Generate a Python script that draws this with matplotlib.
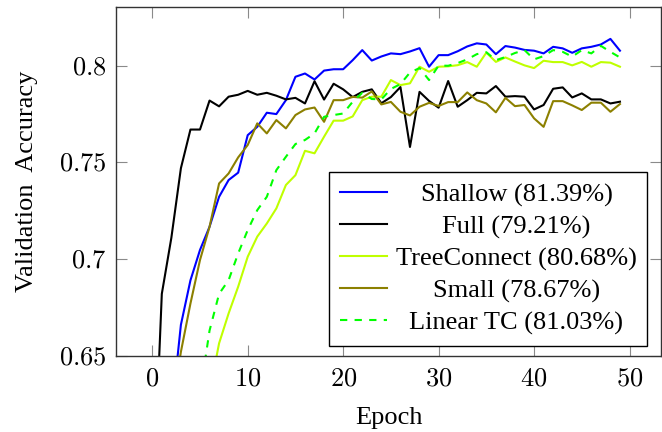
import numpy as np
import matplotlib
matplotlib.use('Agg')
import matplotlib.pyplot as plt
from matplotlib.ticker import FuncFormatter

plt.rcParams['font.family'] = ['Liberation Serif', 'DejaVu Serif']
plt.rcParams['mathtext.fontset'] = 'cm'

epochs = np.arange(50)

shallow = [0.55, 0.59, 0.619, 0.666, 0.689, 0.7047, 0.7167, 0.7322, 0.7409, 0.7447,
           0.7641, 0.7684, 0.7757, 0.775, 0.7822, 0.7943, 0.796, 0.7929, 0.7975, 0.7982,
           0.7982, 0.8029, 0.8081, 0.8027, 0.8048, 0.8064, 0.806, 0.8074, 0.8091, 0.7995,
           0.8055, 0.8055, 0.8075, 0.81, 0.8116, 0.811, 0.806, 0.8102, 0.8094, 0.8082,
           0.8078, 0.8064, 0.8098, 0.809, 0.8067, 0.809, 0.8098, 0.811, 0.8139, 0.8078]
full = [0.563, 0.682, 0.711, 0.747, 0.767, 0.767, 0.782, 0.779, 0.784, 0.785,
        0.787, 0.785, 0.786, 0.7845, 0.7826, 0.7834, 0.7805, 0.7920, 0.7825, 0.7907,
        0.7878, 0.7838, 0.7865, 0.7878, 0.7806, 0.7838, 0.789, 0.758, 0.7865, 0.7818,
        0.7783, 0.7921, 0.7788, 0.7822, 0.786, 0.7857, 0.7895, 0.784, 0.7843, 0.784,
        0.7774, 0.7797, 0.7881, 0.7888, 0.7836, 0.7857, 0.7826, 0.7826, 0.7805, 0.7814]
treeconnect = [0.45, 0.5, 0.54, 0.57, 0.595, 0.615, 0.631, 0.6564, 0.6719, 0.6857,
               0.7012, 0.7116, 0.7184, 0.7262, 0.7383, 0.7434, 0.756, 0.7547, 0.7633, 0.7716,
               0.7716, 0.7738, 0.7822, 0.784, 0.784, 0.7926, 0.79, 0.7909, 0.7995, 0.7969,
               0.7995, 0.7997, 0.8003, 0.8019, 0.7995, 0.8068, 0.802, 0.8043, 0.8022, 0.8002,
               0.7988, 0.8026, 0.8019, 0.8019, 0.8002, 0.802, 0.7995, 0.8019, 0.8016, 0.7995]
small = [0.53, 0.58, 0.62, 0.652, 0.677, 0.6995, 0.7167, 0.7391, 0.7443, 0.7526,
         0.759, 0.7702, 0.765, 0.7719, 0.7676, 0.7745, 0.7774, 0.7784, 0.771, 0.7822,
         0.7822, 0.7839, 0.7835, 0.7867, 0.7800, 0.7813, 0.7762, 0.7743, 0.7788, 0.7808,
         0.7792, 0.7812, 0.7812, 0.7862, 0.7822, 0.7805, 0.7759, 0.7834, 0.7791, 0.7797,
         0.7728, 0.7684, 0.7817, 0.7817, 0.7795, 0.7771, 0.7809, 0.7809, 0.7762, 0.7802]
linear_tc = [0.52, 0.55, 0.575, 0.595, 0.612, 0.630, 0.663, 0.682, 0.6891, 0.7029,
             0.715, 0.7253, 0.7322, 0.746, 0.7529, 0.7595, 0.7616, 0.765, 0.7736, 0.7745,
             0.7753, 0.7814, 0.786, 0.7828, 0.7826, 0.788, 0.7905, 0.7965, 0.7988, 0.7926,
             0.8001, 0.8, 0.8014, 0.8033, 0.806, 0.807, 0.8029, 0.8045, 0.8066, 0.8081,
             0.8033, 0.805, 0.8081, 0.8072, 0.8047, 0.8081, 0.8064, 0.8103, 0.8072, 0.8043]

series = [
    (shallow, 'Shallow (81.39%)', '#0000ff', '-'),
    (full, 'Full (79.21%)', '#000000', '-'),
    (treeconnect, 'TreeConnect (80.68%)', '#bfff00', '-'),
    (small, 'Small (78.67%)', '#8c8000', '-'),
    (linear_tc, 'Linear TC (81.03%)', '#00ff00', '--'),
]

fig = plt.figure(figsize=(6.62, 4.32), dpi=100)
ax = fig.add_axes([116 / 662, 1 - 355.7 / 432, 545 / 662, 348.7 / 432])

for vals, lab, col, ls in series:
    line, = ax.plot(epochs, vals, color=col, lw=1.5, ls=ls, label=lab)
    if ls == '--':
        line.set_dashes((3.5, 3.5))

ax.set_xlim(-3.8, 53.3)
ax.set_ylim(0.65, 0.8304)
ax.set_xticks([0, 10, 20, 30, 40, 50])
ax.set_yticks([0.65, 0.7, 0.75, 0.8])
ax.xaxis.set_major_formatter(FuncFormatter(lambda v, p: f'${v:g}$'))
ax.yaxis.set_major_formatter(FuncFormatter(lambda v, p: f'${v:g}$'))
ax.tick_params(direction='in', top=True, right=True, length=8, width=0.8,
               color='#8a8a8a', labelsize=19)
ax.tick_params(axis='x', pad=9)
ax.tick_params(axis='y', pad=7)
for s in ax.spines.values():
    s.set_color('#333333')
    s.set_linewidth(1.0)

ax.set_xlabel('Epoch', fontsize=19, labelpad=12)
ax.set_ylabel('Validation  Accuracy', fontsize=19, labelpad=15)

leg = ax.legend(loc='lower right', bbox_to_anchor=(0.9752, 0.0287), borderaxespad=0,
                fontsize=19, fancybox=False, framealpha=1, edgecolor='black',
                handlelength=1.8, handletextpad=0.33, borderpad=0.4, labelspacing=0.31)
leg.get_frame().set_linewidth(1.0)

# centre the legend texts like pgfplots does
renderer = fig.canvas.get_renderer()
widths = [t.get_window_extent(renderer).width for t in leg.get_texts()]
wmax = max(widths)
for t, w in zip(leg.get_texts(), widths):
    t.set_position(((wmax - w) / 2, 0))

fig.savefig('out.png', dpi=100)
